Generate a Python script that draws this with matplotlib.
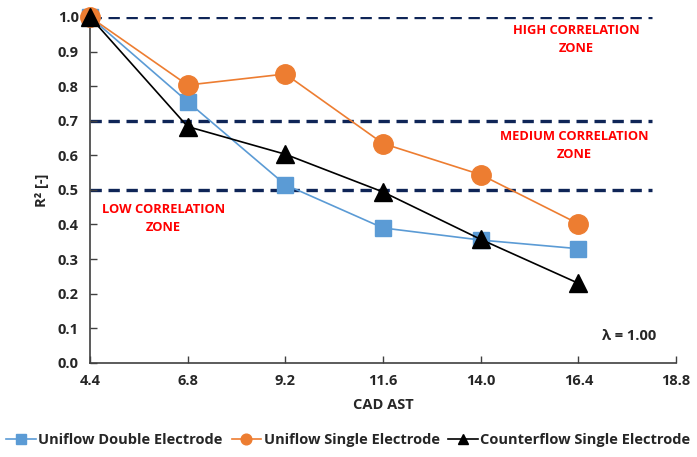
import numpy as np
import matplotlib
matplotlib.use("Agg")
from matplotlib import pyplot as plt

plt.rcParams['font.family'] = ['Open Sans', 'DejaVu Sans']
plt.rcParams['font.weight'] = 'bold'

cad = [4.4, 6.8, 9.2, 11.6, 14.0, 16.4]
uniflow_double = [1.0, 0.755, 0.515, 0.39, 0.355, 0.33]
uniflow_single = [1.0, 0.803, 0.835, 0.634, 0.544, 0.402]
counter_single = [1.0, 0.683, 0.603, 0.494, 0.357, 0.23]

zone_limits = [1.0, 0.7, 0.5]
xticks = [4.4, 6.8, 9.2, 11.6, 14.0, 16.4, 18.8]
yticks = np.round(np.arange(0, 1.01, 0.1), 1)

fig = plt.figure(figsize=(6.97, 4.57), dpi=100)
ax = fig.add_axes([0.129, 0.206, 0.841, 0.757])

# zone boundaries
for z in zone_limits:
    ax.plot([4.4, 18.2], [z, z], color='#0f2557', lw=2.4, ls=(0, (3.4, 2.0)), zorder=1)

ax.plot(cad, uniflow_double, color='#5B9BD5', lw=1.2, marker='s', ms=12,
        label='Uniflow Double Electrode', clip_on=False, zorder=3)
ax.plot(cad, uniflow_single, color='#ED7D31', lw=1.2, marker='o', ms=14,
        label='Uniflow Single Electrode', clip_on=False, zorder=4)
ax.plot(cad, counter_single, color='black', lw=1.2, marker='^', ms=13,
        label='Counterflow Single Electrode', clip_on=False, zorder=5)

ax.set_xlim(4.4, 18.8)
ax.set_ylim(0, 1.0)
ax.set_xticks(xticks)
ax.set_xticklabels([f'{v:.1f}' for v in xticks])
ax.set_yticks(yticks)
ax.set_yticklabels([f'{v:.1f}' for v in yticks])
ax.tick_params(direction='in', length=5, width=1, colors='#404040', labelsize=10.5,
               labelcolor='#262626', pad=8)
for s in ['top', 'right']:
    ax.spines[s].set_visible(False)
for s in ['left', 'bottom']:
    ax.spines[s].set_color('#404040')
    ax.spines[s].set_linewidth(1.2)

ax.set_xlabel('CAD AST', fontsize=10.5, fontweight='bold', color='#262626', labelpad=7)
ax.set_ylabel('R² [-]', fontsize=10.5, fontweight='bold', color='#262626', labelpad=6)

red = '#FF0000'
ax.text(16.35, 0.935, 'HIGH CORRELATION\nZONE', color=red, fontsize=9.3,
        fontweight='bold', ha='center', va='center', linespacing=1.45)
ax.text(16.3, 0.628, 'MEDIUM CORRELATION\nZONE', color=red, fontsize=9.3,
        fontweight='bold', ha='center', va='center', linespacing=1.45)
ax.text(6.2, 0.418, 'LOW CORRELATION\nZONE', color=red, fontsize=9.3,
        fontweight='bold', ha='center', va='center', linespacing=1.45)
ax.text(17.65, 0.078, 'λ = 1.00', color='#262626', fontsize=10.5,
        fontweight='bold', ha='center', va='center')

handles, labels = ax.get_legend_handles_labels()
leg = fig.legend(handles, labels, loc='center', bbox_to_anchor=(0.5, 0.037), ncol=3,
                 frameon=False, fontsize=10.5, markerscale=0.55, handlelength=2.0,
                 handletextpad=0.2, columnspacing=0.6)
for t in leg.get_texts():
    t.set_color('#262626')

fig.savefig('out.png', dpi=100)
